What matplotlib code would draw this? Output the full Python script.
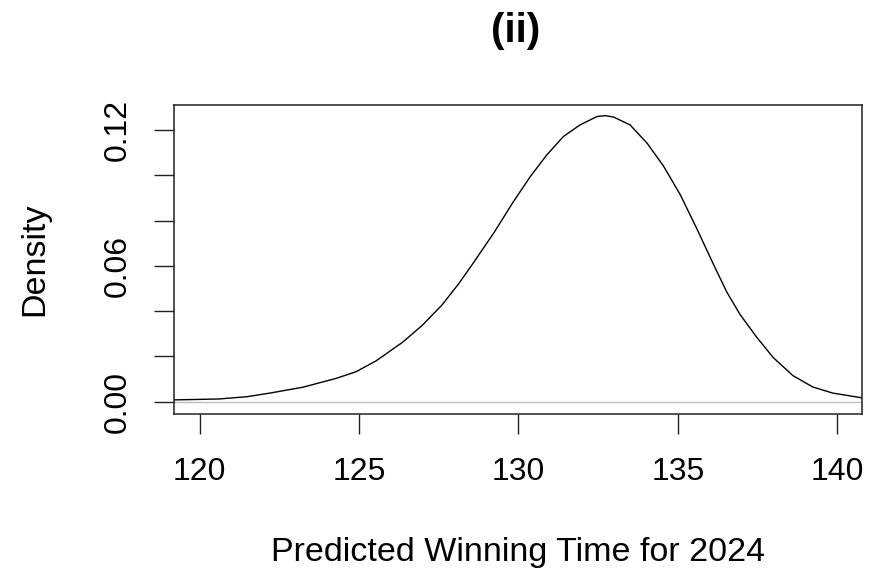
import matplotlib
matplotlib.use("Agg")
import matplotlib.pyplot as plt

plt.rcParams['font.family'] = ['Liberation Sans', 'DejaVu Sans']

# Data
time_x = [119.21, 120.6, 121.48, 122.2, 123.24, 124.28, 124.9, 125.53, 126.36,
          126.98, 127.6, 128.12, 128.54, 129.22, 129.84, 130.37, 130.89,
          131.41, 131.93, 132.46, 132.72, 132.98, 133.50, 134.03, 134.55,
          135.07, 135.59, 136.12, 136.53, 136.95, 137.47, 137.99, 138.61,
          139.23, 139.86, 140.78]
density_y = [0.0008, 0.0012, 0.0022, 0.0038, 0.0064, 0.0103, 0.0132, 0.0180,
             0.0262, 0.0337, 0.0427, 0.0520, 0.0604, 0.0744, 0.0883, 0.0994,
             0.1090, 0.1171, 0.1222, 0.1259, 0.1263, 0.1257, 0.1222, 0.1142,
             0.1040, 0.0915, 0.0765, 0.0605, 0.0485, 0.0385, 0.0285, 0.0195,
             0.0115, 0.0065, 0.0038, 0.0017]

x_ticks = [120, 125, 130, 135, 140]
x_tick_labels = ['120', '125', '130', '135', '140']
y_ticks = [0.00, 0.02, 0.04, 0.06, 0.08, 0.10, 0.12]
y_tick_labels = ['0.00', '', '', '0.06', '', '', '0.12']

title = '(ii)'
x_label = 'Predicted Winning Time for 2024'
y_label = 'Density'

fig = plt.figure(figsize=(8.83, 5.73), dpi=100)
W, H = 883, 573
left, right, top, bottom = 174.4, 862.3, 105, 414
ax = fig.add_axes([left / W, 1 - bottom / H, (right - left) / W, (bottom - top) / H])

ax.axhline(0, color='#bebebe', lw=1.0, zorder=1)
ax.plot(time_x, density_y, color='black', lw=1.0, zorder=2)

ax.set_xlim(119.207, 140.784)
ax.set_ylim(-0.00543, 0.1310)

ax.set_xticks(x_ticks)
ax.set_xticklabels(x_tick_labels)
ax.set_yticks(y_ticks)
ax.set_yticklabels(y_tick_labels)

ax.tick_params(axis='both', direction='out', length=14.4, width=1.0,
               labelsize=23, color='#222222')
ax.tick_params(axis='x', pad=16.5)
ax.tick_params(axis='y', pad=15.5)
for lab in ax.get_yticklabels():
    lab.set_rotation(90)
    lab.set_va('center')

for sp in ax.spines.values():
    sp.set_linewidth(1.1)
    sp.set_color('#222222')

ax.set_xlabel(x_label, fontsize=24.5, va='center')
ax.xaxis.set_label_coords(0.5, (bottom - 552) / (bottom - top))
ax.set_ylabel(y_label, fontsize=24.5, va='center')
ax.yaxis.set_label_coords((35 - left) / (right - left), 0.5)

fig.text(515.7 / W, 1 - 31 / H, title, fontsize=29, fontweight='bold',
         ha='center', va='center')

fig.savefig('out.png', dpi=100)
